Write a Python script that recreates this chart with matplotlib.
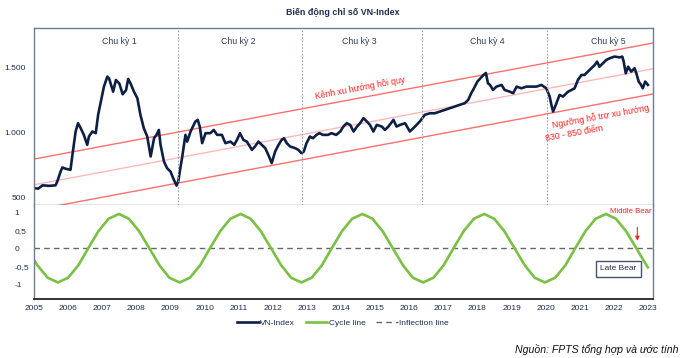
import matplotlib.pyplot as plt
from matplotlib.lines import Line2D

plt.rcParams['font.family'] = ['Liberation Sans', 'DejaVu Sans']

# VN-Index (decimal year, points)
vn_year = [2005.0, 2005.12, 2005.25, 2005.45, 2005.63, 2005.68, 2005.78, 2005.83, 2005.93, 2006.07,
           2006.12, 2006.22, 2006.29, 2006.37, 2006.46, 2006.56, 2006.61, 2006.71, 2006.81, 2006.88,
           2006.95, 2007.05, 2007.15, 2007.2, 2007.32, 2007.4, 2007.5, 2007.6, 2007.7, 2007.76,
           2007.83, 2007.93, 2008.03, 2008.12, 2008.22, 2008.32, 2008.42, 2008.52, 2008.59, 2008.66,
           2008.71, 2008.81, 2008.9, 2009.0, 2009.1, 2009.18, 2009.23, 2009.29, 2009.34, 2009.44,
           2009.49, 2009.59, 2009.73, 2009.8, 2009.86, 2009.93, 2010.03, 2010.17, 2010.27, 2010.37,
           2010.51, 2010.61, 2010.76, 2010.87, 2010.95, 2011.04, 2011.14, 2011.24, 2011.39, 2011.48,
           2011.58, 2011.68, 2011.78, 2011.87, 2011.97, 2012.07, 2012.17, 2012.26, 2012.33, 2012.41,
           2012.51, 2012.66, 2012.75, 2012.84, 2012.91, 2012.99, 2013.09, 2013.18, 2013.28, 2013.37,
           2013.47, 2013.62, 2013.72, 2013.86, 2013.98, 2014.07, 2014.17, 2014.27, 2014.37, 2014.47,
           2014.56, 2014.66, 2014.76, 2014.85, 2014.95, 2015.05, 2015.2, 2015.29, 2015.39, 2015.54,
           2015.63, 2015.73, 2015.88, 2016.02, 2016.17, 2016.31, 2016.46, 2016.61, 2016.75, 2016.9,
           2017.04, 2017.19, 2017.34, 2017.48, 2017.63, 2017.73, 2017.82, 2017.9, 2018.0, 2018.09,
           2018.18, 2018.25, 2018.31, 2018.37, 2018.46, 2018.56, 2018.71, 2018.8, 2018.95, 2019.05,
           2019.15, 2019.29, 2019.44, 2019.58, 2019.73, 2019.88, 2020.02, 2020.12, 2020.17, 2020.22,
           2020.3, 2020.41, 2020.51, 2020.66, 2020.76, 2020.85, 2020.95, 2021.05, 2021.14, 2021.24,
           2021.34, 2021.44, 2021.51, 2021.58, 2021.68, 2021.78, 2021.88, 2022.02, 2022.17, 2022.25,
           2022.29, 2022.35, 2022.42, 2022.51, 2022.61, 2022.66, 2022.73, 2022.8, 2022.85, 2022.92,
           2023.0]
vn_value = [571, 566, 592, 588, 592, 620, 699, 730, 720, 712,
            815, 1008, 1072, 1033, 982, 905, 969, 1008, 995, 1137,
            1227, 1355, 1432, 1419, 1316, 1406, 1380, 1296, 1329, 1414,
            1380, 1316, 1265, 1137, 1033, 969, 815, 956, 982, 1020,
            905, 776, 725, 699, 635, 590, 622, 725, 802, 982,
            930, 1008, 1085, 1098, 1046, 918, 995, 995, 1020, 982,
            982, 918, 930, 905, 943, 995, 943, 930, 866, 892,
            930, 905, 879, 828, 764, 853, 905, 943, 956, 918,
            892, 879, 866, 841, 853, 918, 969, 956, 982, 995,
            982, 982, 995, 982, 1008, 1046, 1072, 1059, 1008, 1046,
            1072, 1111, 1085, 1059, 1008, 1059, 1046, 1020, 1046, 1098,
            1046, 1059, 1072, 1008, 1046, 1085, 1137, 1149, 1149, 1162,
            1175, 1188, 1201, 1214, 1227, 1252, 1304, 1342, 1394, 1419,
            1445, 1460, 1381, 1368, 1329, 1355, 1368, 1329, 1316, 1304,
            1355, 1342, 1355, 1355, 1355, 1368, 1342, 1278, 1214, 1162,
            1214, 1291, 1278, 1316, 1329, 1342, 1407, 1445, 1445, 1471,
            1497, 1522, 1548, 1509, 1535, 1561, 1574, 1587, 1581, 1587,
            1548, 1458, 1509, 1471, 1497, 1458, 1394, 1368, 1342, 1394,
            1368]

# regression channel (start / end of each line)
chan_year = [2005.0, 2023.15]
chan_upper = [795, 1692]
chan_mid = [596, 1493]
chan_lower = [401, 1298]

# cycle line readings
cyc_year = [2005.0, 2005.1, 2005.4, 2005.7, 2006.0, 2006.3, 2006.59, 2006.89, 2007.19, 2007.49,
            2007.78, 2008.08, 2008.38, 2008.68, 2008.97, 2009.27, 2009.57, 2009.87, 2010.16, 2010.46,
            2010.76, 2011.06, 2011.35, 2011.65, 2011.95, 2012.25, 2012.54, 2012.84, 2013.14, 2013.44,
            2013.73, 2014.03, 2014.33, 2014.63, 2014.92, 2015.22, 2015.52, 2015.82, 2016.11, 2016.41,
            2016.71, 2017.01, 2017.3, 2017.6, 2017.9, 2018.2, 2018.49, 2018.79, 2019.09, 2019.39,
            2019.68, 2019.98, 2020.28, 2020.58, 2020.87, 2021.17, 2021.47, 2021.77, 2022.06, 2022.36,
            2022.66, 2022.96, 2023.0]
cyc_value = [-0.33, -0.475, -0.82, -0.95, -0.82, -0.475, 0, 0.475, 0.82, 0.95,
             0.82, 0.475, 0, -0.475, -0.82, -0.95, -0.82, -0.475, 0, 0.475,
             0.82, 0.95, 0.82, 0.475, 0, -0.475, -0.82, -0.95, -0.82, -0.475,
             0, 0.475, 0.82, 0.95, 0.82, 0.475, 0, -0.475, -0.82, -0.95,
             -0.82, -0.475, 0, 0.475, 0.82, 0.95, 0.82, 0.475, 0, -0.475,
             -0.82, -0.95, -0.82, -0.475, 0, 0.475, 0.82, 0.95, 0.82, 0.475,
             0, -0.475, -0.53]

cycle_breaks = [2009.21, 2012.86, 2016.38, 2020.04]
cycle_names = ['Chu kỳ 1', 'Chu kỳ 2', 'Chu kỳ 3', 'Chu kỳ 4', 'Chu kỳ 5']
cycle_label_x = [2007.5, 2011.0, 2014.55, 2018.3, 2021.85]
years = list(range(2005, 2024))

navy = '#0D1F45'
green = '#7AC143'
frame = '#6F7C91'
txt = '#1F2D4E'
red = '#FF2020'

fig = plt.figure(figsize=(6.9, 3.58), dpi=100)
ax1 = fig.add_axes([0.0493, 0.4274, 0.8971, 0.4944])
ax2 = fig.add_axes([0.0493, 0.1648, 0.8971, 0.2626])

# upper panel
ax1.plot(chan_year, chan_upper, color='#FF6F6F', lw=1.0)
ax1.plot(chan_year, chan_mid, color='#FFB8B8', lw=1.0)
ax1.plot(chan_year, chan_lower, color='#FF6F6F', lw=1.0)
ax1.plot(vn_year, vn_value, color=navy, lw=1.9)
for b in cycle_breaks:
    ax1.axvline(b, color='#9AA3B5', lw=0.8, ls=(0, (1.5, 1.5)))
for name, xc in zip(cycle_names, cycle_label_x):
    ax1.text(xc, 1700, name, ha='center', va='center', fontsize=6.3, color='#2F3B55')

ax1.text(2014.56, 1345, 'Kênh xu hướng hồi quy', rotation=10.6, ha='center', va='center',
         fontsize=6.3, color=red)
ax1.text(2021.62, 1125, 'Ngưỡng hỗ trợ xu hướng', rotation=10.3, ha='center', va='center',
         fontsize=6.3, color=red)
ax1.text(2020.84, 992, '830 - 850 điểm', rotation=10.3, ha='center', va='center',
         fontsize=6.3, color=red)

ax1.set_xlim(2005.0, 2023.15)
ax1.set_ylim(440, 1808)
ax1.set_yticks([500, 1000, 1500])
ax1.set_yticklabels(['500', '1.000', '1.500'])
ax1.set_xticks([])
ax1.tick_params(axis='y', length=0, pad=6, labelsize=6.0, labelcolor=txt)
for s in ax1.spines.values():
    s.set_color(frame)
    s.set_linewidth(1.0)

# lower panel
ax2.axhline(0, color='#666666', lw=1.0, ls=(0, (4, 3)))
ax2.plot(cyc_year, cyc_value, color=green, lw=1.9)
ax2.set_xlim(2005.0, 2023.15)
ax2.set_ylim(-1.41, 1.2)
ax2.set_yticks([1, 0.5, 0, -0.5, -1])
ax2.set_yticklabels(['1', '0,5', '0', '-0,5', '-1'])
ax2.set_xticks(years)
ax2.set_xticklabels([str(y) for y in years])
ax2.tick_params(axis='y', length=0, pad=14, labelsize=6.0, labelcolor=txt)
ax2.tick_params(axis='x', length=0, pad=4, labelsize=6.0, labelcolor=txt)
for lab in ax2.get_yticklabels():
    lab.set_horizontalalignment('left')
for s in ax2.spines.values():
    s.set_color(frame)
    s.set_linewidth(1.0)
ax2.spines['bottom'].set_color('#333333')
ax2.spines['bottom'].set_linewidth(1.4)
ax2.spines['top'].set_visible(False)

ax2.text(2022.49, 1.02, 'Middle Bear', ha='center', va='center', fontsize=5.6, color=red)
ax2.annotate('', xy=(2022.69, 0.13), xytext=(2022.69, 0.66),
             arrowprops=dict(arrowstyle='-|>', color=red, lw=0.8, mutation_scale=6))
ax2.text(2022.13, -0.575, 'Late Bear', ha='center', va='center', fontsize=6.0, color=txt,
         bbox=dict(boxstyle='square,pad=0.5', facecolor='white', edgecolor='#44546A', lw=1.0))

fig.text(0.497, 0.965, 'Biến động chỉ số VN-Index', ha='center', va='center',
         fontsize=6.4, fontweight='bold', color=txt)

handles = [Line2D([], [], color=navy, lw=1.9),
           Line2D([], [], color=green, lw=1.9),
           Line2D([], [], color='#666666', lw=1.0, ls=(0, (4, 3)))]
fig.legend(handles, ['VN-Index', 'Cycle line', 'Inflection line'], loc='center',
           bbox_to_anchor=(0.497, 0.098), ncol=3, frameon=False, fontsize=6.0,
           handlelength=2.6, handletextpad=0.15, columnspacing=1.3, labelcolor=txt)

fig.text(0.983, 0.025, 'Nguồn: FPTS tổng hợp và ước tính', ha='right', va='center',
         fontsize=7.6, style='italic', color='#111111')

fig.savefig('out.png', dpi=100)
